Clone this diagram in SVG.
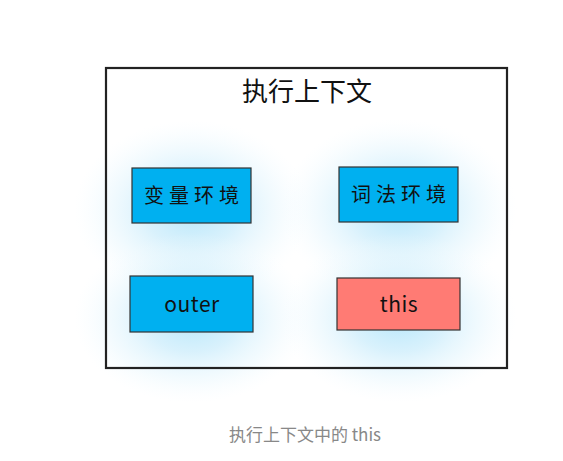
<svg xmlns="http://www.w3.org/2000/svg" width="563" height="461" viewBox="0 0 563 461">
<defs>
<radialGradient id="glow" cx="0.5" cy="0.5" r="0.5">
<stop offset="0" stop-color="#aee4fa" stop-opacity="0.9"/>
<stop offset="0.4" stop-color="#c4eafb" stop-opacity="0.65"/>
<stop offset="0.75" stop-color="#e2f5fd" stop-opacity="0.35"/>
<stop offset="1" stop-color="#f2fbff" stop-opacity="0"/>
</radialGradient>
<style>
.box{stroke:#333;stroke-width:1.2}
.blue{fill:#00b0f0}
.red{fill:#ff7b74}
.lbl{font-family:"Noto Sans CJK SC","Noto Sans",sans-serif;font-size:20px;fill:#111;text-anchor:middle;letter-spacing:5px}
.en{font-size:21px;letter-spacing:0.5px}
</style>
</defs>
<rect width="563" height="461" fill="#fff"/>
<g id="glows">
<ellipse cx="192" cy="210" rx="118" ry="90" fill="url(#glow)"/>
<ellipse cx="399" cy="209" rx="118" ry="90" fill="url(#glow)"/>
<ellipse cx="192" cy="318" rx="118" ry="85" fill="url(#glow)"/>
<ellipse cx="399" cy="318" rx="118" ry="85" fill="url(#glow)"/>
</g>
<g id="frame">
<rect x="106" y="68" width="401" height="300" fill="none" stroke="#222" stroke-width="2.2"/>
<text x="307" y="101" font-family="Noto Sans CJK SC, sans-serif" font-size="26" fill="#111" text-anchor="middle">执行上下文</text>
</g>
<g id="var-env">
<rect class="box blue" x="132" y="168" width="119" height="55"/>
<text class="lbl" x="194" y="203">变量环境</text>
</g>
<g id="lex-env">
<rect class="box blue" x="339" y="167" width="119" height="55"/>
<text class="lbl" x="401" y="202">词法环境</text>
</g>
<g id="outer">
<rect class="box blue" x="130" y="276" width="123" height="56"/>
<text class="lbl en" x="192" y="312">outer</text>
</g>
<g id="this">
<rect class="box red" x="337" y="278" width="123" height="52"/>
<text class="lbl en" x="399" y="312">this</text>
</g>
<g id="connectors"></g>
<text x="305" y="441" font-family="Noto Sans CJK SC, sans-serif" font-size="17" fill="#888" text-anchor="middle">执行上下文中的 this</text>
</svg>
